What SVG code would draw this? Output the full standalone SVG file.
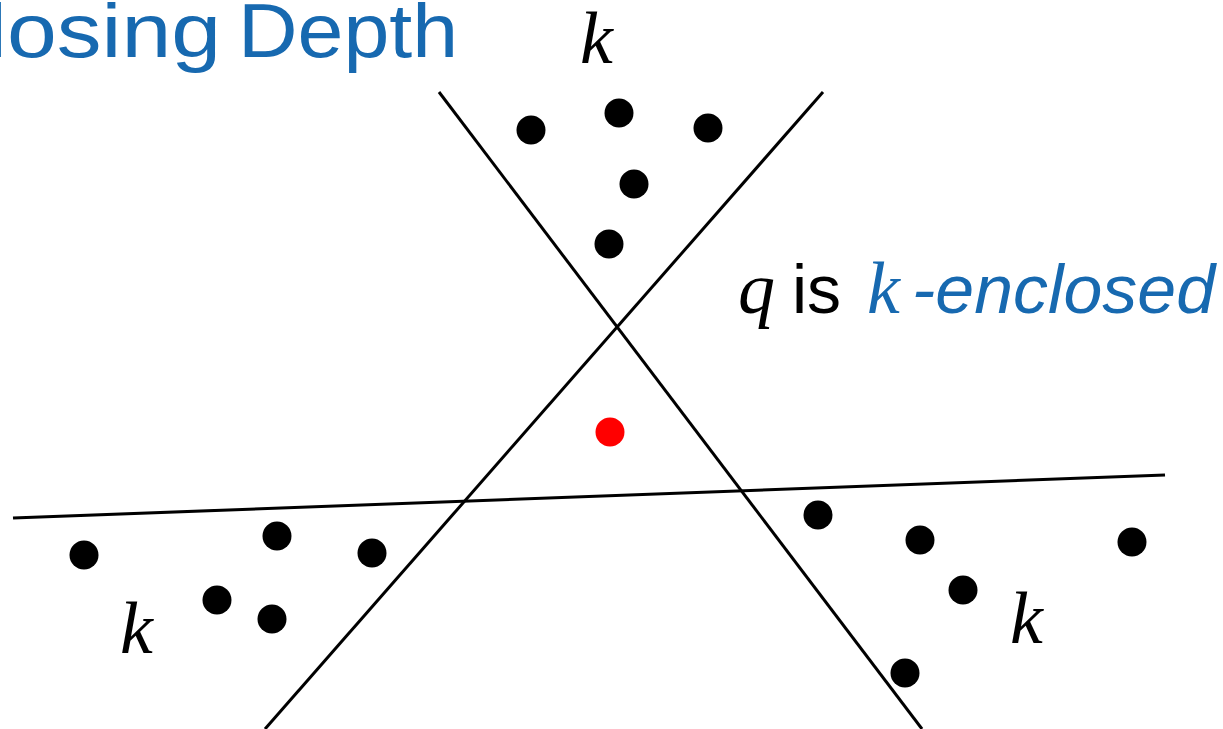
<svg xmlns="http://www.w3.org/2000/svg" width="1223" height="729" viewBox="0 0 1223 729">
  <style>
    .ln { stroke: #000; stroke-width: 3; fill: none; stroke-linecap: butt; }
    .pt { fill: #000; }
    .q { fill: #ff0000; }
    .math { font-family: "Liberation Serif", "Times New Roman", serif; font-style: italic; font-size: 74px; fill: #000; }
    .sans { font-family: "Liberation Sans", Arial, Helvetica, sans-serif; }
    .blue { fill: #1769b0; }
  </style>
  <rect width="1223" height="729" fill="#fff"/>

  <g id="title">
    <text class="sans blue" x="-13" y="57" font-size="76" textLength="234" lengthAdjust="spacingAndGlyphs">losing</text>
    <text class="sans blue" x="238" y="57" font-size="76" textLength="220" lengthAdjust="spacingAndGlyphs">Depth</text>
  </g>

  <g id="connectors">
    <line class="ln" x1="439" y1="92" x2="922" y2="729"/>
    <line class="ln" x1="823" y1="92" x2="265" y2="729"/>
    <line class="ln" x1="13" y1="518" x2="1165" y2="475"/>
  </g>

  <g id="top-points">
    <circle class="pt" cx="531" cy="130" r="14.5"/>
    <circle class="pt" cx="619" cy="113" r="14.5"/>
    <circle class="pt" cx="708" cy="128" r="14.5"/>
    <circle class="pt" cx="634" cy="184" r="14.5"/>
    <circle class="pt" cx="609" cy="244" r="14.5"/>
  </g>

  <g id="query-point">
    <circle class="q" cx="610" cy="432" r="14.5"/>
  </g>

  <g id="left-points">
    <circle class="pt" cx="84" cy="555" r="14.5"/>
    <circle class="pt" cx="277" cy="536" r="14.5"/>
    <circle class="pt" cx="372" cy="553" r="14.5"/>
    <circle class="pt" cx="217" cy="600" r="14.5"/>
    <circle class="pt" cx="272" cy="619" r="14.5"/>
  </g>

  <g id="right-points">
    <circle class="pt" cx="818" cy="515" r="14.5"/>
    <circle class="pt" cx="920" cy="540" r="14.5"/>
    <circle class="pt" cx="1132" cy="542" r="14.5"/>
    <circle class="pt" cx="963" cy="590" r="14.5"/>
    <circle class="pt" cx="905" cy="673" r="14.5"/>
  </g>

  <g id="k-labels">
    <text class="math" x="580" y="63">k</text>
    <text class="math" x="120" y="653">k</text>
    <text class="math" x="1010" y="643">k</text>
  </g>

  <g id="enclosed-label">
    <text class="math" x="738" y="313">q</text>
    <text class="sans" x="792" y="313" font-size="68" fill="#000">is</text>
    <text class="math blue" x="867" y="313">k</text>
    <text class="sans blue" x="912" y="313" font-size="68" font-style="italic" textLength="303" lengthAdjust="spacingAndGlyphs">-enclosed</text>
  </g>
</svg>
